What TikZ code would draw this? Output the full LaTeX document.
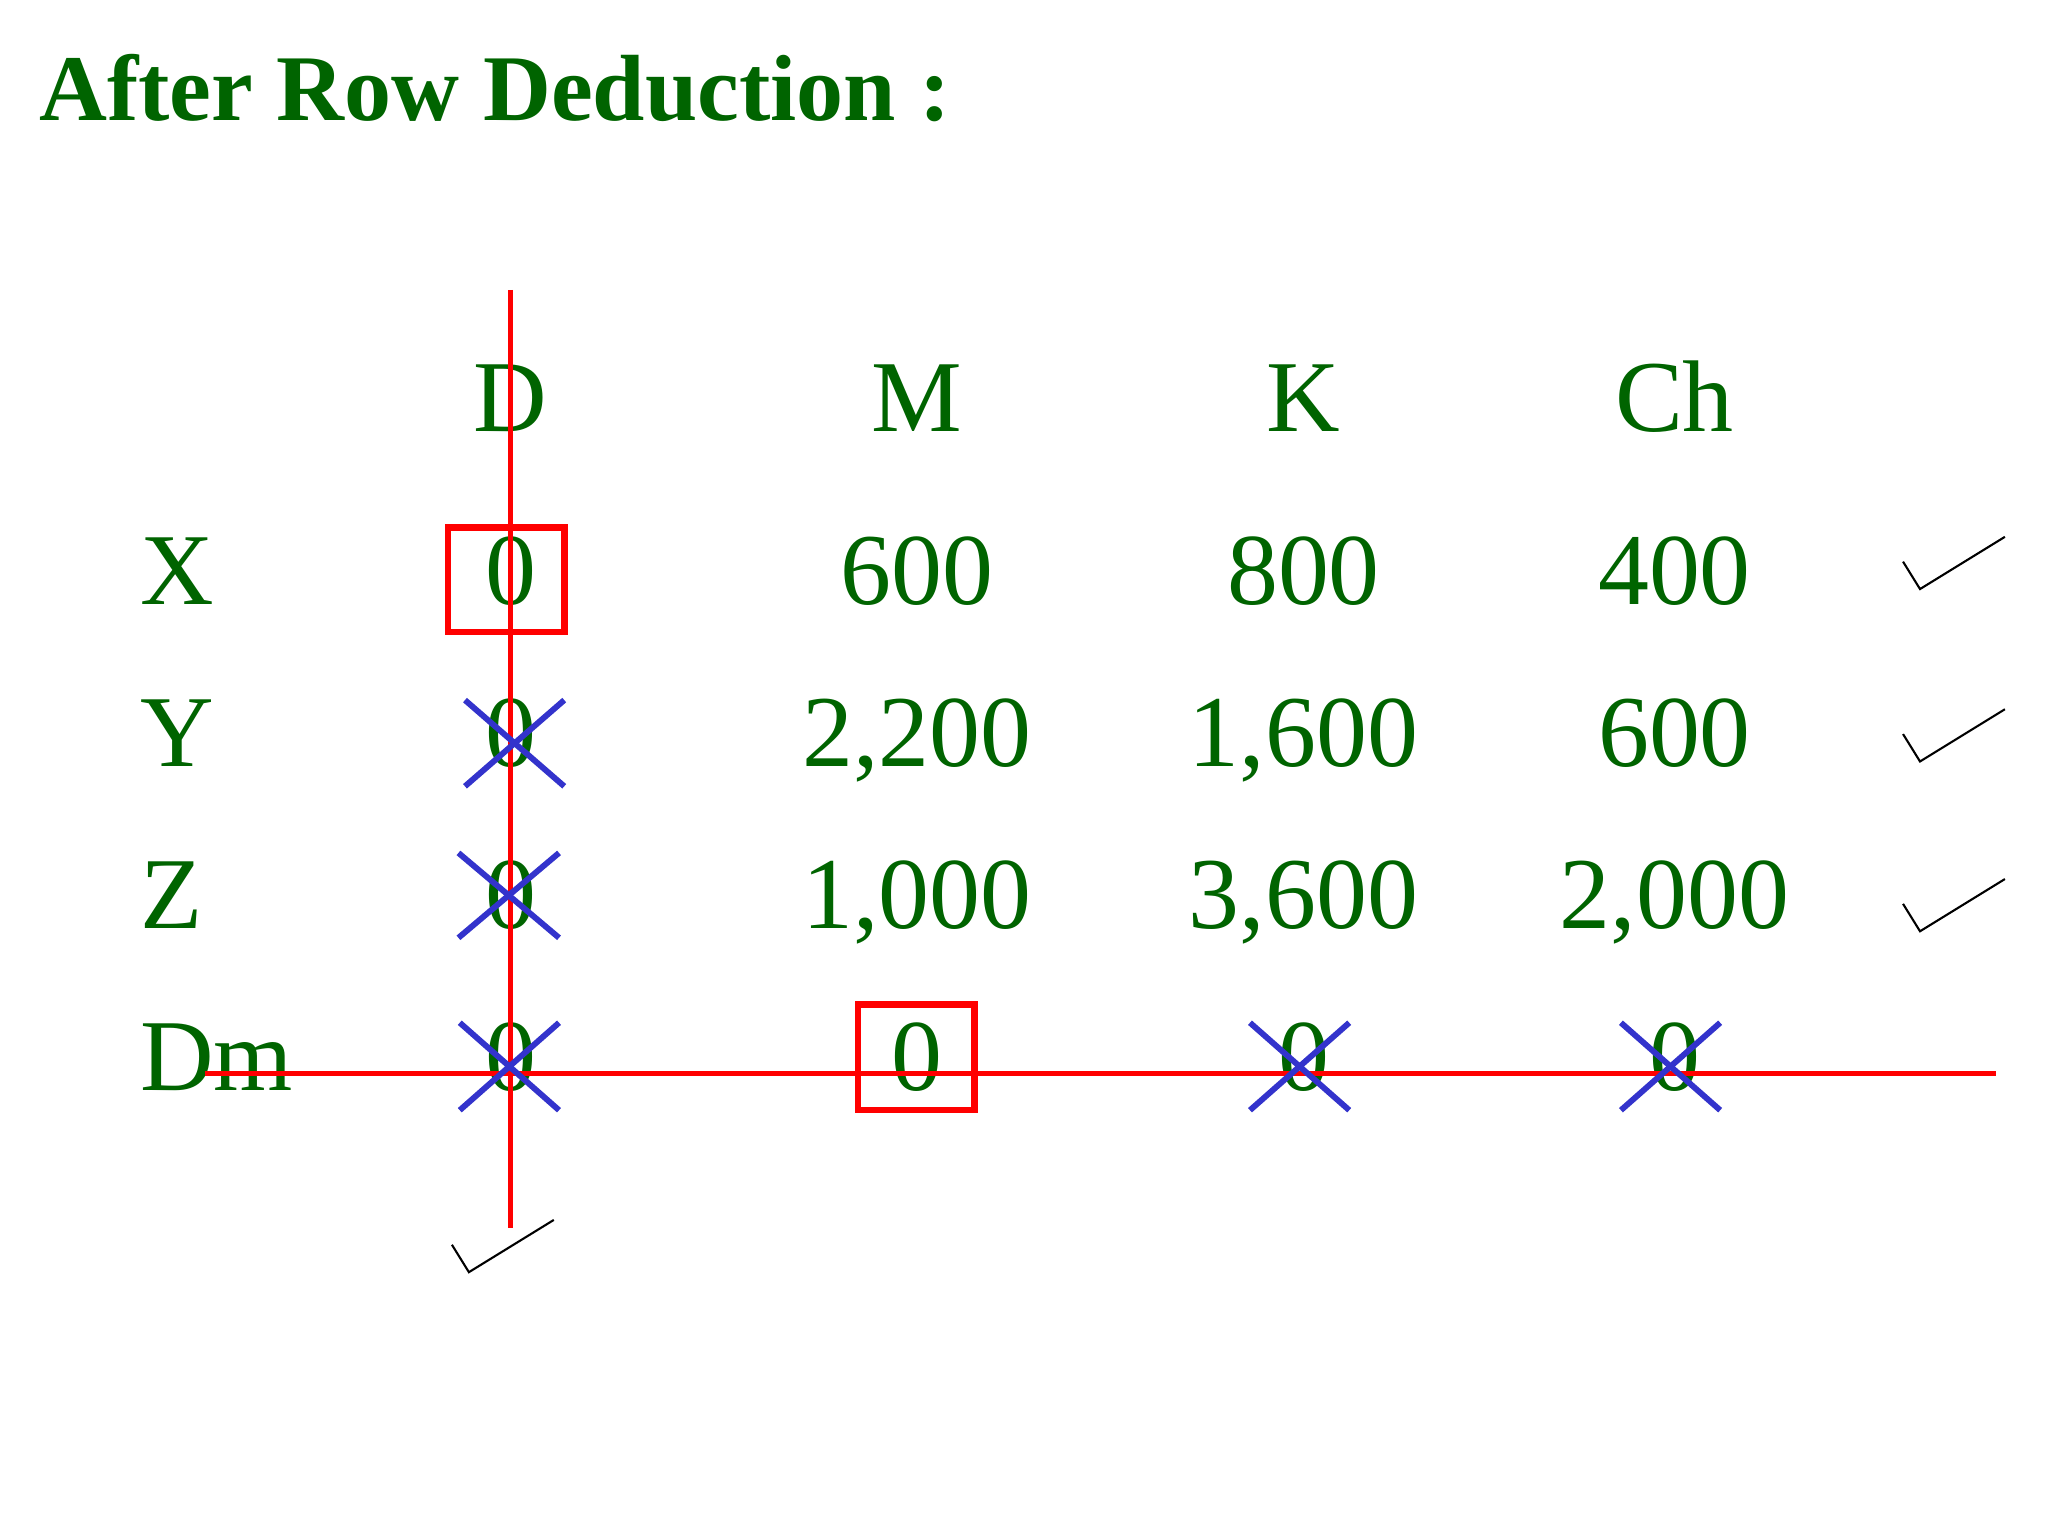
\documentclass[tikz,border=0pt]{standalone}
\usepackage{fontspec}
\setmainfont{Liberation Serif}
\definecolor{dg}{RGB}{0,100,0}
\definecolor{xb}{RGB}{51,51,204}
\begin{document}
\begin{tikzpicture}[x=1pt,y=-1pt,
  txt/.style={text=dg,font=\fontsize{78}{80}\selectfont,inner sep=0pt},
  redln/.style={draw=red,line width=4pt},
  redbox/.style={draw=red,line width=5pt},
  cross/.style={draw=xb,line width=4.5pt},
  tick/.style={draw=black,line width=1.6pt}]
\useasboundingbox[fill=white] (0,0) rectangle (1568,1176);
\node[txt,anchor=base west,font=\fontsize{72}{74}\selectfont\bfseries] (title) at (30,92) {After Row Deduction :};
% headers
\foreach \n/\x/\t in {hD/391/D,hM/702/M,hK/998/K,hC/1282/Ch}
  \node[txt,anchor=base] (\n) at (\x,330) {\t};
% row labels
\foreach \n/\y/\t in {rX/463/X,rY/587/Y,rZ/711/Z,rD/835/Dm}
  \node[txt,anchor=base west] (\n) at (107,\y) {\t};
% values
\node[txt,anchor=base] (x1) at (391,463) {0};
\node[txt,anchor=base] (x2) at (702,463) {600};
\node[txt,anchor=base] (x3) at (998,463) {800};
\node[txt,anchor=base] (x4) at (1282,463) {400};
\node[txt,anchor=base] (y1) at (391,587) {0};
\node[txt,anchor=base] (y2) at (702,587) {2,200};
\node[txt,anchor=base] (y3) at (998,587) {1,600};
\node[txt,anchor=base] (y4) at (1282,587) {600};
\node[txt,anchor=base] (z1) at (391,711) {0};
\node[txt,anchor=base] (z2) at (702,711) {1,000};
\node[txt,anchor=base] (z3) at (998,711) {3,600};
\node[txt,anchor=base] (z4) at (1282,711) {2,000};
\node[txt,anchor=base] (d1) at (391,835) {0};
\node[txt,anchor=base] (d2) at (702,835) {0};
\node[txt,anchor=base] (d3) at (998,835) {0};
\node[txt,anchor=base] (d4) at (1282,835) {0};
% red lines
\coordinate (vt) at (391,222); \coordinate (vb) at (391,940);
\coordinate (hl) at (157,822); \coordinate (hr) at (1528,822);
\draw[redln] (vt) -- (vb);
\draw[redln] (hl) -- (hr);
% red boxes
\draw[redbox] (343,404) rectangle (432,484);
\draw[redbox] (657,769) rectangle (746,850);
% crosses
\foreach \a/\b/\c/\d in {356/536/432/602,351/653/428/718,352/783/428/850,957/783/1033/850,1241/783/1317/850}{
  \draw[cross] (\a,\b) -- (\c,\d);
  \draw[cross] (\a,\d) -- (\c,\b);}
% ticks
\foreach \x/\y in {1457/430,1457/562,1457/692,346/953}
  \draw[tick] (\x,\y) -- ++(13,21) -- ++(65,-40);
\end{tikzpicture}
\end{document}
